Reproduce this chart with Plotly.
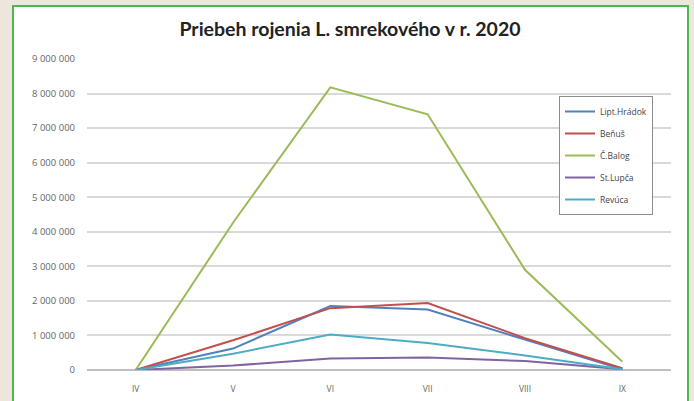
import plotly.graph_objects as go

months = ["IV", "V", "VI", "VII", "VIII", "IX"]
lipt_hradok = [0, 620000, 1850000, 1750000, 880000, 20000]
benus = [0, 860000, 1790000, 1940000, 920000, 50000]
c_balog = [0, 4260000, 8180000, 7400000, 2900000, 240000]
st_lupca = [0, 130000, 330000, 360000, 260000, 20000]
revuca = [0, 470000, 1030000, 780000, 420000, 20000]

y_ticks = [0, 1000000, 2000000, 3000000, 4000000, 5000000, 6000000, 7000000, 8000000, 9000000]
y_tick_labels = ["0", "1 000 000", "2 000 000", "3 000 000", "4 000 000", "5 000 000",
                 "6 000 000", "7 000 000", "8 000 000", "9 000 000"]

series = [
    ("Lipt.Hrádok", lipt_hradok, "#4f81bd"),
    ("Beňuš", benus, "#c0504d"),
    ("Č.Balog", c_balog, "#9bbb59"),
    ("St.Lupča", st_lupca, "#8064a2"),
    ("Revúca", revuca, "#4bacc6"),
]

fig = go.Figure()
for i, (name, vals, col) in enumerate(series):
    fig.add_trace(go.Scatter(x=months, y=vals, name=name, mode="lines",
                             line=dict(color=col, width=2), legendgroup=str(i)))

W, H = 694, 401
L, R, T, B = 87, 23, 59, 31
pw, ph = W - L - R, H - T - B

def px_x(x):
    return (x - L) / pw

def px_y(y):
    return (H - B - y) / ph

fig.add_shape(type="rect", xref="paper", yref="paper",
              x0=px_x(13), x1=px_x(688), y0=px_y(406), y1=px_y(6),
              fillcolor="white", line=dict(color="#4cb84f", width=2), layer="below")

fig.update_layout(
    width=W, height=H,
    margin=dict(l=L, r=R, t=T, b=B),
    paper_bgcolor="#ede6dc",
    plot_bgcolor="rgba(0,0,0,0)",
    title=dict(text="<b>Priebeh rojenia L. smrekového v r. 2020</b>", x=(350) / W, xanchor="center",
               y=1 - 29 / H, yanchor="middle", automargin=False,
               font=dict(family="Lato", size=19.5, color="#222222")),
    font=dict(family="Open Sans", color="#666666"),
    legend=dict(x=px_x(559), xanchor="left", y=px_y(96), yanchor="top",
                bordercolor="#8c8c8c", borderwidth=1, bgcolor="white",
                font=dict(size=8.5, color="#444444", family="Open Sans"),
                traceorder="grouped", tracegroupgap=3, itemwidth=30),
    xaxis=dict(showgrid=False, tickfont=dict(size=8.5, color="#666666"), ticks="",
               showline=False, zeroline=False, range=[-0.5, 5.5], ticklabelstandoff=12,
               automargin=False),
    yaxis=dict(range=[0, 9000000], tickvals=y_ticks, ticktext=y_tick_labels,
               tickfont=dict(size=9.5, color="#666666"), showgrid=True,
               gridcolor="#d9d9d9", gridwidth=1.5, zeroline=True, zerolinecolor="#bfbfbf",
               zerolinewidth=2, ticks="", ticklabelstandoff=11, automargin=False),
    showlegend=True,
)

fig.write_html("out.html", config={"displayModeBar": False},
               post_script="document.body.style.margin='0';document.body.style.overflow='hidden';")
